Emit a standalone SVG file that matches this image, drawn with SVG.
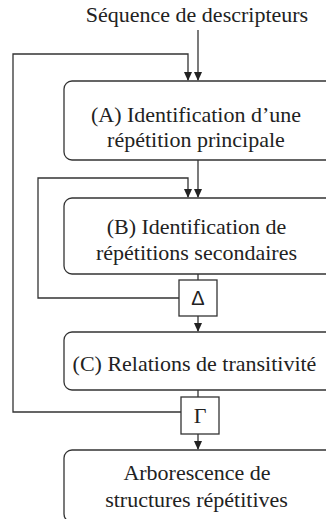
<svg xmlns="http://www.w3.org/2000/svg" width="326" height="519" viewBox="0 0 326 519">
<style>
.box{fill:#fff;stroke:#333;stroke-width:1.3}
.sq{fill:#fff;stroke:#333;stroke-width:1.3}
.ln{fill:none;stroke:#333;stroke-width:1.3}
.ah{fill:#222}
.t{font-family:"Liberation Serif","Times New Roman",serif;font-size:22px;fill:#222;text-anchor:middle}
.g{font-family:"Liberation Sans",Arial,sans-serif;font-size:20px;fill:#222;text-anchor:middle}
</style>
<defs>
<path id="ah" d="M-4,-9 L4,-9 L0,0 Z"/>
</defs>
<rect width="326" height="519" fill="#fff"/>
<g id="connectors">
<path class="ln" d="M198,30 V80"/>
<use href="#ah" class="ah" x="198" y="81"/>
<path class="ln" d="M181,412 H13 V54 H188 V80"/>
<use href="#ah" class="ah" x="188" y="81"/>
<path class="ln" d="M198,160 V197"/>
<use href="#ah" class="ah" x="198" y="198"/>
<path class="ln" d="M179,298 H38 V178 H188 V197"/>
<use href="#ah" class="ah" x="188" y="198"/>
<path class="ln" d="M198,274 V280"/>
<path class="ln" d="M198,316 V331"/>
<use href="#ah" class="ah" x="198" y="332"/>
<path class="ln" d="M198,390 V397"/>
<path class="ln" d="M198,434 V449"/>
<use href="#ah" class="ah" x="198" y="450"/>
</g>
<g id="input">
<text class="t" x="197" y="22">Séquence de descripteurs</text>
</g>
<g id="nodeA">
<rect class="box" x="64" y="81" width="270" height="79" rx="8"/>
<text class="t" x="196" y="121.5">(A) Identification d’une</text>
<text class="t" x="196" y="146.5">répétition principale</text>
</g>
<g id="nodeB">
<rect class="box" x="64" y="198" width="270" height="76" rx="8"/>
<text class="t" x="196.5" y="234">(B) Identification de</text>
<text class="t" x="196.5" y="260">répétitions secondaires</text>
</g>
<g id="delta">
<rect class="sq" x="179" y="280" width="38" height="36"/>
<text class="g" x="198" y="305">Δ</text>
</g>
<g id="nodeC">
<rect class="box" x="64" y="332" width="270" height="58" rx="8"/>
<text class="t" x="194.5" y="371">(C) Relations de transitivité</text>
</g>
<g id="gamma">
<rect class="sq" x="181" y="397" width="38" height="37"/>
<text class="t" x="200" y="423">Γ</text>
</g>
<g id="nodeD">
<rect class="box" x="64" y="450" width="270" height="72" rx="8"/>
<text class="t" x="197" y="480">Arborescence de</text>
<text class="t" x="196.5" y="506.5">structures répétitives</text>
</g>
</svg>
